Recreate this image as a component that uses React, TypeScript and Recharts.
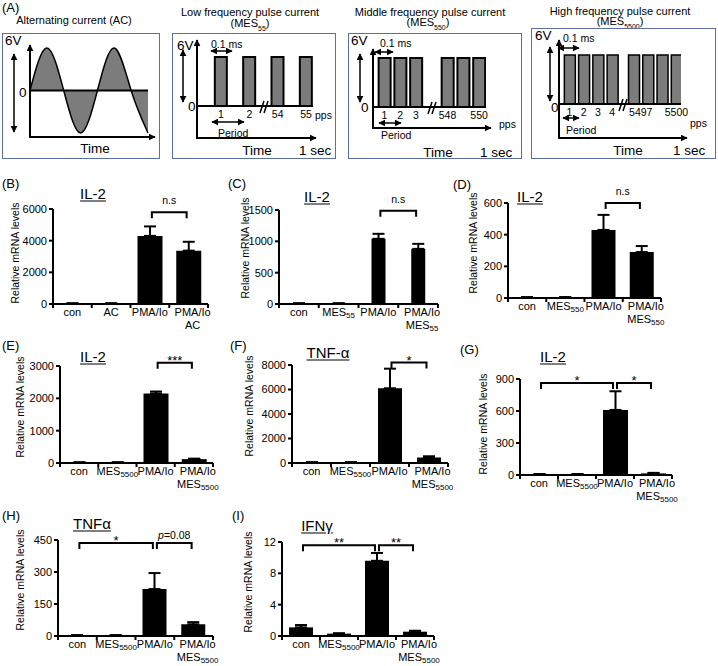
import React from "react";
import {
  AreaChart,
  Area,
  BarChart,
  Bar,
  XAxis,
  YAxis,
  ErrorBar,
  ReferenceLine,
} from "recharts";

// ---- panel A: waveforms ----
const acTime = [0, 1, 2, 3, 4, 5, 6, 7];
const acVolt = [0, 1, 0, -1, 0, 1, 0, -1];

const mes55Pos = [1, 2, 3, 4];
const mes55TickPos = [1, 2, 3, 4];
const mes55Ticks = ["1", "2", "54", "55"];

const mes550Pos = [1, 2, 3, 5, 6, 7];
const mes550TickPos = [1, 2, 3, 5, 7];
const mes550Ticks = ["1", "2", "3", "548", "550"];

const mes5500Pos = [1, 2, 3, 4, 5.5, 6.5, 7.5, 8.5];
const mes5500TickPos = [1, 2, 3, 4, 6, 8.5];
const mes5500Ticks = ["1", "2", "3", "4", "5497", "5500"];

// ---- panels B-I: qPCR bars ----
const catsB = ["con", "AC", "PMA/Io", "PMA/Io\nAC"];
const valsB = [40, 40, 4300, 3370];
const errsB = [0, 0, 600, 560];
const ticksB = [0, 2000, 4000, 6000];

const catsC = ["con", "MES_55", "PMA/Io", "PMA/Io\nMES_55"];
const valsC = [10, 10, 1040, 880];
const errsC = [0, 0, 80, 80];
const ticksC = [0, 500, 1000, 1500];

const catsD = ["con", "MES_550", "PMA/Io", "PMA/Io\nMES_550"];
const valsD = [5, 5, 430, 290];
const errsD = [0, 0, 95, 38];
const ticksD = [0, 200, 400, 600];

const cats5500 = ["con", "MES_5500", "PMA/Io", "PMA/Io\nMES_5500"];

const valsE = [20, 20, 2150, 120];
const errsE = [0, 0, 60, 15];
const ticksE = [0, 1000, 2000, 3000];

const valsF = [60, 60, 6100, 450];
const errsF = [0, 0, 1600, 100];
const ticksF = [0, 2000, 4000, 6000, 8000];

const valsG = [8, 8, 610, 15];
const errsG = [0, 0, 175, 5];
const ticksG = [0, 300, 600, 900];

const valsH = [3, 3, 220, 55];
const errsH = [1, 1, 75, 10];
const ticksH = [0, 150, 300, 450];

const valsI = [1.1, 0.3, 9.6, 0.55];
const errsI = [0.3, 0.05, 1.0, 0.12];
const ticksI = [0, 4, 8, 12];

const FONT = "'Liberation Sans', Arial, Helvetica, sans-serif";
const BOX = "#5b6fa6";
const GREY = "#7c7c7c";

type Bracket = { a: number; b: number; y: number; text: string };
type Panel = {
  cats: string[];
  vals: number[];
  errs: number[];
  ticks: number[];
  x0: number;
  x1: number;
  yTop: number;
  yBot: number;
  bar: number;
  title: string;
  tx: number;
  ty: number;
  lx: number;
  ly: number;
  letter: string;
  px: number;
  py: number;
  brackets: Bracket[];
};

const panels: Panel[] = [
  { cats: catsB, vals: valsB, errs: errsB, ticks: ticksB, x0: 53, x1: 208, yTop: 209, yBot: 304, bar: 25,
    title: "IL-2", tx: 93, ty: 193, lx: 15, ly: 253, letter: "(B)", px: 2, py: 183,
    brackets: [{ a: 2, b: 3, y: 5800, text: "n.s" }] },
  { cats: catsC, vals: valsC, errs: errsC, ticks: ticksC, x0: 279, x1: 438, yTop: 210, yBot: 304, bar: 14,
    title: "IL-2", tx: 317, ty: 196, lx: 245, ly: 248, letter: "(C)", px: 228, py: 183,
    brackets: [{ a: 2, b: 3, y: 1490, text: "n.s" }] },
  { cats: catsD, vals: valsD, errs: errsD, ticks: ticksD, x0: 508, x1: 661, yTop: 203, yBot: 298, bar: 24,
    title: "IL-2", tx: 530, ty: 196, lx: 473, ly: 243, letter: "(D)", px: 453, py: 184,
    brackets: [{ a: 2, b: 3, y: 600, text: "n.s" }] },
  { cats: cats5500, vals: valsE, errs: errsE, ticks: ticksE, x0: 60, x1: 213, yTop: 366, yBot: 463, bar: 25,
    title: "IL-2", tx: 93, ty: 356, lx: 20, ly: 407, letter: "(E)", px: 2, py: 345,
    brackets: [{ a: 2, b: 3, y: 3100, text: "***" }] },
  { cats: cats5500, vals: valsF, errs: errsF, ticks: ticksF, x0: 292, x1: 448, yTop: 365, yBot: 463, bar: 24,
    title: "TNF-\u03b1", tx: 328, ty: 352, lx: 249, ly: 406, letter: "(F)", px: 230, py: 345,
    brackets: [{ a: 2, b: 3, y: 8200, text: "*" }] },
  { cats: cats5500, vals: valsG, errs: errsG, ticks: ticksG, x0: 520, x1: 672, yTop: 379, yBot: 475, bar: 25,
    title: "IL-2", tx: 553, ty: 356, lx: 483, ly: 424, letter: "(G)", px: 460, py: 349,
    brackets: [{ a: 0, b: 2, y: 862, text: "*" }, { a: 2, b: 3, y: 862, text: "*" }] },
  { cats: cats5500, vals: valsH, errs: errsH, ticks: ticksH, x0: 58, x1: 213, yTop: 540, yBot: 636, bar: 24,
    title: "TNF\u03b1", tx: 92, ty: 523, lx: 20, ly: 580, letter: "(H)", px: 2, py: 515,
    brackets: [{ a: 0, b: 2, y: 436, text: "*" }, { a: 2, b: 3, y: 436, text: "p=0.08" }] },
  { cats: cats5500, vals: valsI, errs: errsI, ticks: ticksI, x0: 282, x1: 434, yTop: 542, yBot: 636, bar: 24,
    title: "IFN\u03b3", tx: 317, ty: 525, lx: 248, ly: 582, letter: "(I)", px: 232, py: 515,
    brackets: [{ a: 0, b: 2, y: 11.6, text: "**" }, { a: 2, b: 3, y: 11.6, text: "**" }] },
];

function Txt({ x, y, size, children, anchor = "middle", rotate = false, underline = false }: any) {
  const tx = anchor === "middle" ? "-50%" : anchor === "end" ? "-100%" : "0";
  return (
    <div
      style={{
        position: "absolute",
        left: x,
        top: y,
        transform: `translate(${tx}, -50%)${rotate ? " rotate(-90deg)" : ""}`,
        fontSize: size,
        lineHeight: 1,
        whiteSpace: "nowrap",
        textDecoration: underline ? "underline" : undefined,
        textUnderlineOffset: 2,
        color: "#000",
      }}
    >
      {children}
    </div>
  );
}

function XTick(props: any) {
  const { x, y, payload, index, half } = props;
  const lines = String(payload.value).split("\n");
  const shift = index === 3 ? 4 : 0;
  return (
    <g>
      <line x1={x - half} x2={x - half} y1={y} y2={y + 4} stroke="#000" strokeWidth={2} />
      {index === 3 && <line x1={x + half} x2={x + half} y1={y} y2={y + 4} stroke="#000" strokeWidth={2} />}
      {lines.map((ln, i) => {
        const [base, sub] = ln.split("_");
        return (
          <text key={i} x={x + shift} y={y + 12 + i * 13} textAnchor="middle" fontSize={11} fill="#000">
            {base}
            {sub && (
              <tspan fontSize={8} dy={2}>
                {sub}
              </tspan>
            )}
          </text>
        );
      })}
    </g>
  );
}

const bracketShape = (text: string) => (p: any) => {
  const { x1, x2, y1 } = p;
  const g = 2;
  const isStar = text.startsWith("*");
  const isP = text.startsWith("p=");
  return (
    <g>
      <path
        d={`M${x1 + g},${y1 + 6}V${y1}H${x2 - g}V${y1 + 6}`}
        fill="none"
        stroke="#000"
        strokeWidth={2}
      />
      <text
        x={(x1 + x2) / 2}
        y={isStar ? y1 + 2 : isP ? y1 - 4 : y1 - 8}
        textAnchor="middle"
        fontSize={isStar ? 13 : 10.5}
        fill="#000"
      >
        {isP ? (
          <>
            <tspan fontStyle="italic">p</tspan>
            {text.slice(1)}
          </>
        ) : (
          text
        )}
      </text>
    </g>
  );
};

function BarPanel({ p }: { p: Panel }) {
  const ML = 50, MT = 45, MR = 12, MB = 40;
  const w = p.x1 - p.x0 + ML + MR;
  const h = p.yBot - p.yTop + MT + MB;
  const half = (p.x1 - p.x0) / 8;
  const data = p.cats.map((c, i) => ({ cat: c, v: p.vals[i], e: [0, p.errs[i]] }));
  const max = p.ticks[p.ticks.length - 1];
  return (
    <>
      <Txt x={p.px} y={p.py} size={13} anchor="start">{p.letter}</Txt>
      <Txt x={p.tx} y={p.ty} size={15} underline>{p.title}</Txt>
      <Txt x={p.lx} y={p.ly} size={10.5} rotate>Relative mRNA levels</Txt>
      <div style={{ position: "absolute", left: p.x0 - ML, top: p.yTop - MT }}>
        <BarChart width={w} height={h} data={data} margin={{ top: MT, right: MR, left: 0, bottom: 0 }}>
          <XAxis
            dataKey="cat"
            height={MB}
            interval={0}
            axisLine={{ stroke: "#000", strokeWidth: 2 }}
            tickLine={false}
            tickSize={0}
            tickMargin={0}
            tick={(tp: any) => <XTick {...tp} half={half} />}
          />
          <YAxis
            width={ML}
            type="number"
            domain={[0, max]}
            ticks={p.ticks}
            interval={0}
            allowDataOverflow
            axisLine={{ stroke: "#000", strokeWidth: 2 }}
            tickLine={{ stroke: "#000", strokeWidth: 2 }}
            tickSize={4}
            tickMargin={2}
            tick={{ fontSize: 11, fill: "#000" }}
          />
          <Bar dataKey="v" fill="#000" barSize={p.bar} isAnimationActive={false}>
            <ErrorBar dataKey="e" width={6} stroke="#000" strokeWidth={2} direction="y" />
          </Bar>
          {p.brackets.map((b, i) => (
            <ReferenceLine
              key={i}
              ifOverflow="visible"
              segment={[
                { x: p.cats[b.a], y: b.y },
                { x: p.cats[b.b], y: b.y },
              ]}
              shape={bracketShape(b.text)}
            />
          ))}
        </BarChart>
      </div>
    </>
  );
}

function PulseChart({ pos, tickPos, ticks, x0, x1, top, bottom, domain, bar, sw = 2 }: any) {
  const data = pos.map((p: number) => ({ p, v: 1 }));
  const labelOf = (v: number) => ticks[tickPos.indexOf(v)] ?? "";
  const MR = 24;
  return (
    <div style={{ position: "absolute", left: x0, top: top - 2 }}>
      <BarChart width={x1 - x0 + MR} height={bottom - top + 22} data={data} margin={{ top: 2, right: MR, left: 0, bottom: 0 }}>
        <XAxis
          type="number"
          dataKey="p"
          domain={domain}
          allowDataOverflow
          ticks={tickPos}
          interval={0}
          tickFormatter={labelOf}
          height={20}
          axisLine={{ stroke: "#000", strokeWidth: 2 }}
          tickLine={false}
          tickSize={0}
          tickMargin={5}
          tick={{ fontSize: 10.5, fill: "#000" }}
        />
        <YAxis domain={[0, 1]} hide />
        <Bar dataKey="v" barSize={bar} fill={GREY} stroke="#000" strokeWidth={sw} isAnimationActive={false} />
      </BarChart>
    </div>
  );
}

const box = (l: number, t: number, r: number, b: number) => (
  <div
    style={{
      position: "absolute",
      left: l,
      top: t,
      width: r - l,
      height: b - t,
      border: `1.5px solid ${BOX}`,
      boxSizing: "border-box",
    }}
  />
);

function Arrow({ x1, y1, x2, y2, both = false, w = 2 }: any) {
  return (
    <line
      x1={x1}
      y1={y1}
      x2={x2}
      y2={y2}
      stroke="#000"
      strokeWidth={w}
      markerEnd="url(#ah)"
      markerStart={both ? "url(#ah)" : undefined}
    />
  );
}

function Brk({ x, y }: any) {
  return (
    <g stroke="#000" strokeWidth={1.5}>
      <line x1={x - 4} y1={y + 6} x2={x} y2={y - 6} />
      <line x1={x} y1={y + 6} x2={x + 4} y2={y - 6} />
    </g>
  );
}

export default function App() {
  const acData = acTime.map((t, i) => ({ t, v: acVolt[i] }));
  return (
    <div
      style={{
        position: "absolute",
        left: 0,
        top: 0,
        width: 718,
        height: 666,
        background: "#fff",
        overflow: "hidden",
        fontFamily: FONT,
      }}
    >
      {/* panel A titles */}
      <Txt x={2} y={7} size={13} anchor="start">(A)</Txt>
      <Txt x={74} y={20} size={11}>Alternating current (AC)</Txt>
      <Txt x={250} y={12} size={11}>Low frequency pulse current</Txt>
      <Txt x={250} y={25} size={11}>(MES<sub style={{ fontSize: 7 }}>55</sub>)</Txt>
      <Txt x={430} y={12} size={11}>Middle frequency pulse current</Txt>
      <Txt x={428} y={24} size={11}>(MES<sub style={{ fontSize: 7 }}>550</sub>)</Txt>
      <Txt x={620} y={11} size={11}>High frequency pulse current</Txt>
      <Txt x={620} y={23} size={11}>(MES<sub style={{ fontSize: 7 }}>5500</sub>)</Txt>

      {box(2, 33, 160, 159)}
      {box(172, 33, 336, 159)}
      {box(348, 33, 522, 159)}
      {box(531, 28, 716, 159)}

      {/* AC sine */}
      <div style={{ position: "absolute", left: 27, top: 45 }}>
        <AreaChart width={124} height={91} data={acData} margin={{ top: 3, right: 3, left: 3, bottom: 3 }}>
          <XAxis type="number" dataKey="t" domain={[0, 7]} hide />
          <YAxis domain={[-1, 1]} hide />
          <Area
            type="natural"
            dataKey="v"
            baseValue={0}
            fill={GREY}
            fillOpacity={1}
            stroke="#000"
            strokeWidth={1.5}
            isAnimationActive={false}
          />
          <ReferenceLine y={0} stroke="#000" strokeWidth={2} />
        </AreaChart>
      </div>

      <PulseChart pos={mes55Pos} tickPos={mes55TickPos} ticks={mes55Ticks} x0={197} x1={313} top={57} bottom={106} domain={[0.153, 4.247]} bar={12} />
      <PulseChart pos={mes550Pos} tickPos={mes550TickPos} ticks={mes550Ticks} x0={373} x1={486} top={58} bottom={107} domain={[0.27, 7.44]} bar={12} />
      <PulseChart pos={mes5500Pos} tickPos={mes5500TickPos} ticks={mes5500Ticks} x0={559} x1={681} top={55} bottom={104} domain={[0.266, 8.82]} bar={11} sw={1.5} />

      <svg width={718} height={170} style={{ position: "absolute", left: 0, top: 0, pointerEvents: "none" }} fontFamily={FONT}>
        <defs>
          <marker id="ah" viewBox="0 0 10 10" refX="9" refY="5" markerWidth="7" markerHeight="7" markerUnits="userSpaceOnUse" orient="auto-start-reverse">
            <path d="M0,0L10,5L0,10z" fill="#000" />
          </marker>
        </defs>
        {/* box 1 */}
        <Arrow x1={30} y1={137} x2={30} y2={45} />
        <Arrow x1={29} y1={137} x2={155} y2={137} />
        <Arrow x1={14} y1={54} x2={14} y2={132} both w={1.5} />
        <text x={5} y={45} fontSize={13.5}>6V</text>
        <text x={19} y={97} fontSize={13.5}>0</text>
        <text x={95} y={153} fontSize={13.5} textAnchor="middle">Time</text>

        {/* box 2 */}
        <Arrow x1={197} y1={138} x2={197} y2={40} />
        <Arrow x1={196} y1={138} x2={316} y2={138} />
        <Arrow x1={183} y1={50} x2={183} y2={102} both w={1.5} />
        <Arrow x1={211} y1={51} x2={232} y2={51} both w={1.5} />
        <Arrow x1={212} y1={122} x2={244} y2={122} both w={1.5} />
        <Brk x={264} y={107} />
        <text x={177} y={50} fontSize={13.5}>6V</text>
        <text x={188} y={111} fontSize={13.5}>0</text>
        <text x={211} y={48} fontSize={10.5}>0.1 ms</text>
        <text x={218} y={137} fontSize={10.5}>Period</text>
        <text x={315} y={119} fontSize={10.5}>pps</text>
        <text x={257} y={155} fontSize={13.5} textAnchor="middle">Time</text>
        <text x={299} y={155} fontSize={13.5}>1 sec</text>

        {/* box 3 */}
        <Arrow x1={373} y1={128} x2={373} y2={49} />
        <Arrow x1={372} y1={128} x2={491} y2={128} />
        <Arrow x1={360} y1={54} x2={360} y2={102} both w={1.5} />
        <Arrow x1={375} y1={52} x2={393} y2={52} both w={1.5} />
        <Arrow x1={379} y1={123} x2={401} y2={123} both w={1.5} />
        <Brk x={432} y={108} />
        <text x={351} y={45} fontSize={13.5}>6V</text>
        <text x={361} y={112} fontSize={13.5}>0</text>
        <text x={380} y={47} fontSize={10.5}>0.1 ms</text>
        <text x={381} y={139} fontSize={10.5}>Period</text>
        <text x={499} y={128} fontSize={10.5}>pps</text>
        <text x={438} y={157} fontSize={13.5} textAnchor="middle">Time</text>
        <text x={480} y={157} fontSize={13.5}>1 sec</text>

        {/* box 4 */}
        <Arrow x1={559} y1={138} x2={559} y2={40} />
        <Arrow x1={558} y1={138} x2={687} y2={138} />
        <Arrow x1={550} y1={47} x2={550} y2={101} both w={1.5} />
        <Arrow x1={558} y1={48} x2={579} y2={48} both w={1.5} />
        <Arrow x1={563} y1={118} x2={579} y2={118} both w={1.5} />
        <Brk x={623} y={105} />
        <text x={535} y={40} fontSize={13.5}>6V</text>
        <text x={551} y={112} fontSize={13.5}>0</text>
        <text x={563} y={42} fontSize={10.5}>0.1 ms</text>
        <text x={566} y={134} fontSize={10.5}>Period</text>
        <text x={690} y={127} fontSize={10.5}>pps</text>
        <text x={628} y={155} fontSize={13.5} textAnchor="middle">Time</text>
        <text x={673} y={155} fontSize={13.5}>1 sec</text>
      </svg>

      {panels.map((p, i) => (
        <BarPanel key={i} p={p} />
      ))}
    </div>
  );
}
